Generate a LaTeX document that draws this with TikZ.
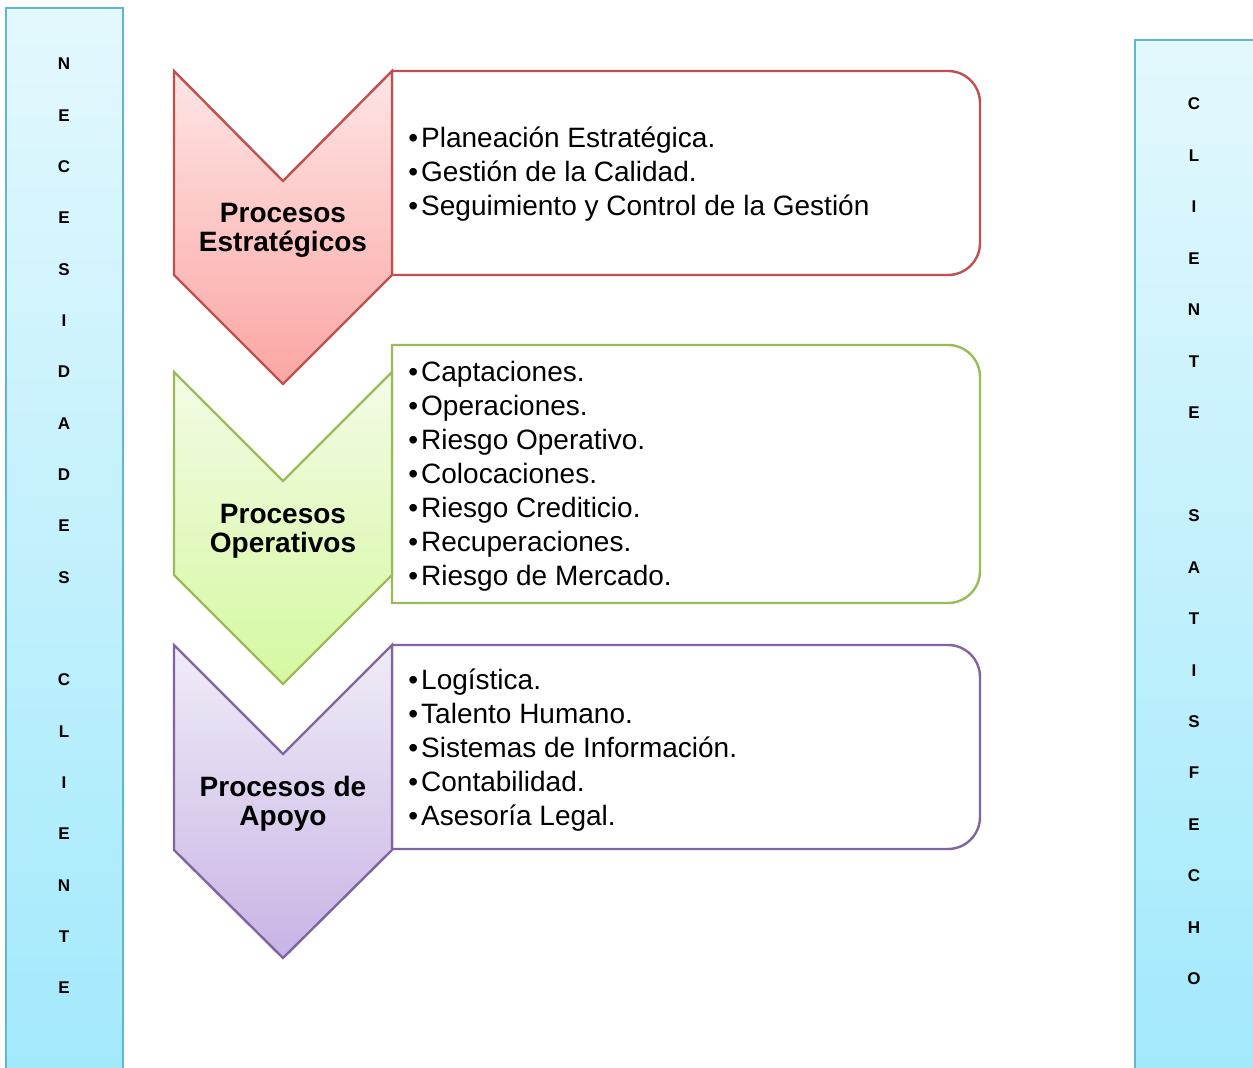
\documentclass[tikz,border=0pt]{standalone}
\usepackage{fontspec}
\setmainfont{Liberation Sans}
\definecolor{barline}{HTML}{5FB8CF}
\definecolor{bartop}{HTML}{E3F8FD}
\definecolor{barbot}{HTML}{A2E9FC}
\definecolor{redline}{HTML}{C0504D}
\definecolor{redtop}{HTML}{FDE5E5}
\definecolor{redbot}{HTML}{FBA6A3}
\definecolor{grnline}{HTML}{9BBB59}
\definecolor{grntop}{HTML}{F3FBE6}
\definecolor{grnbot}{HTML}{D5F8A0}
\definecolor{purline}{HTML}{8064A2}
\definecolor{purtop}{HTML}{F0ECF7}
\definecolor{purbot}{HTML}{C8B4E5}
% bullet followed by a thin gap
\newcommand{\blt}{•\kern1.5pt}
\begin{document}
\begin{tikzpicture}[x=0.5pt,y=-0.5pt,
  sidebar/.style={draw=barline, line width=1pt, top color=bartop, bottom color=barbot},
  letter/.style={font=\bfseries\fontsize{8.5}{10}\selectfont, inner sep=0pt},
  title/.style={font=\bfseries\fontsize{14}{14.5}\selectfont, align=center, inner sep=0pt},
  items/.style={font=\fontsize{14}{17}\selectfont, align=left, anchor=west, inner sep=0pt},
  listbox/.style={draw=#1, line width=1.2pt, fill=white},
  chevron/.style n args={3}{draw=#1, line width=1.2pt, top color=#2, bottom color=#3, line join=miter}]
\useasboundingbox (0,0) rectangle (1253,1068);
\clip (0,0) rectangle (1253,1068);
\fill[white] (0,0) rectangle (1253,1068);

% side bars
\path[sidebar] (6,8) rectangle (123,1080);
\path[sidebar] (1135,40) rectangle (1270,1080);

% vertical lettering on the bars
\foreach \c/\i in {N/0,E/1,C/2,E/3,S/4,I/5,D/6,A/7,D/8,E/9,S/10,C/12,L/13,I/14,E/15,N/16,T/17,E/18}
  \node[letter] (nl\i) at (64,{64+\i*51.33}) {\c};
\foreach \c/\i in {C/0,L/1,I/2,E/3,N/4,T/5,E/6,S/8,A/9,T/10,I/11,S/12,F/13,E/14,C/15,H/16,O/17}
  \node[letter] (nr\i) at (1194,{104+\i*51.47}) {\c};

% list boxes, rounded on the right side
\path[listbox=redline] (392,71) -- (948,71) arc(-90:0:32) -- (980,243) arc(0:90:32) -- (392,275) -- cycle;
\path[listbox=grnline] (392,345) -- (948,345) arc(-90:0:32) -- (980,571) arc(0:90:32) -- (392,603) -- cycle;
\path[listbox=purline] (392,645) -- (948,645) arc(-90:0:32) -- (980,817) arc(0:90:32) -- (392,849) -- cycle;

% chevrons
\path[chevron={redline}{redtop}{redbot}] (174,71) -- (283,181) -- (392,71) -- (392,275) -- (283,384) -- (174,275) -- cycle;
\path[chevron={grnline}{grntop}{grnbot}] (174,372) -- (283,481) -- (392,372) -- (392,575) -- (283,684) -- (174,575) -- cycle;
\path[chevron={purline}{purtop}{purbot}] (174,645) -- (283,754) -- (392,645) -- (392,850) -- (283,958) -- (174,850) -- cycle;

% chevron titles
\node[title] (t1) at (283,230) {Procesos\\Estratégicos};
\node[title] (t2) at (283,531) {Procesos\\Operativos};
\node[title] (t3) at (283,804) {Procesos de\\Apoyo};

% process lists
\node[items] (l1) at (408,174.5) {\blt Planeación Estratégica.\\\blt Gestión de la Calidad.\\\blt Seguimiento y Control de la Gestión};
\node[items] (l2) at (408,476) {\blt Captaciones.\\\blt Operaciones.\\\blt Riesgo Operativo.\\\blt Colocaciones.\\\blt Riesgo Crediticio.\\\blt Recuperaciones.\\\blt Riesgo de Mercado.};
\node[items] (l3) at (408,750) {\blt Logística.\\\blt Talento Humano.\\\blt Sistemas de Información.\\\blt Contabilidad.\\\blt Asesoría Legal.};
\end{tikzpicture}
\end{document}
